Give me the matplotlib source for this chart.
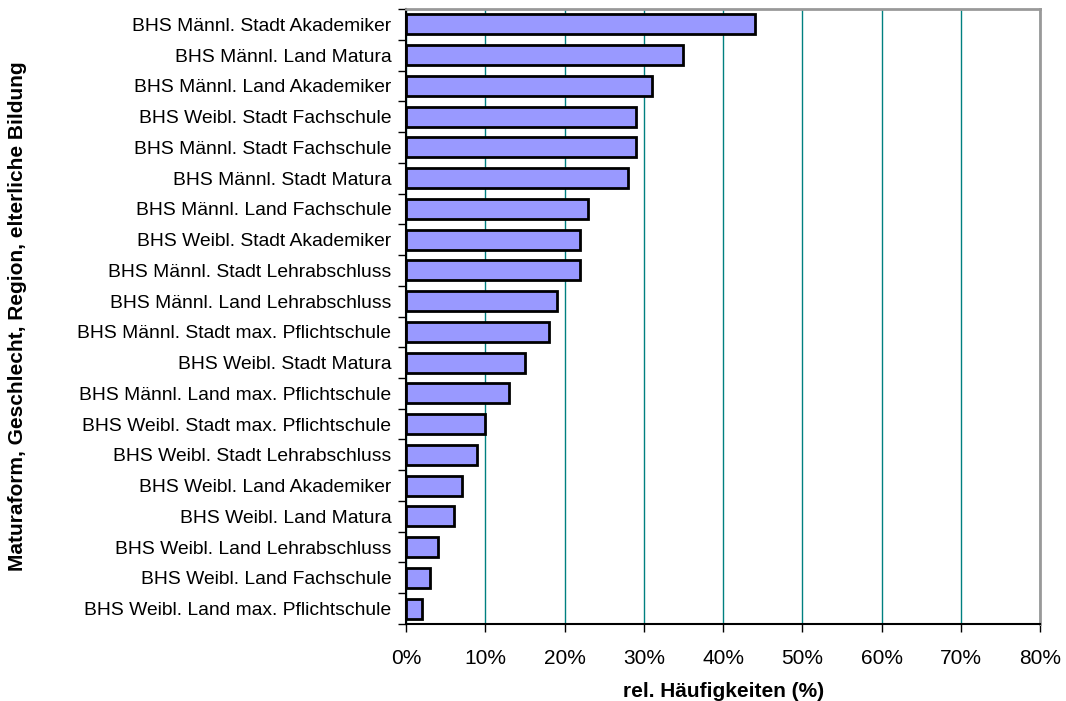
import matplotlib
matplotlib.use("Agg")
import matplotlib.pyplot as plt
from matplotlib.ticker import FixedLocator, PercentFormatter

# ----------------- DATA -----------------
CATEGORIES = [
    "BHS Männl. Stadt Akademiker",
    "BHS Männl. Land Matura",
    "BHS Männl. Land Akademiker",
    "BHS Weibl. Stadt Fachschule",
    "BHS Männl. Stadt Fachschule",
    "BHS Männl. Stadt Matura",
    "BHS Männl. Land Fachschule",
    "BHS Weibl. Stadt Akademiker",
    "BHS Männl. Stadt Lehrabschluss",
    "BHS Männl. Land Lehrabschluss",
    "BHS Männl. Stadt max. Pflichtschule",
    "BHS Weibl. Stadt Matura",
    "BHS Männl. Land max. Pflichtschule",
    "BHS Weibl. Stadt max. Pflichtschule",
    "BHS Weibl. Stadt Lehrabschluss",
    "BHS Weibl. Land Akademiker",
    "BHS Weibl. Land Matura",
    "BHS Weibl. Land Lehrabschluss",
    "BHS Weibl. Land Fachschule",
    "BHS Weibl. Land max. Pflichtschule",
]
VALUES = [44, 35, 31, 29, 29, 28, 23, 22, 22, 19, 18, 15, 13, 10, 9, 7, 6, 4, 3, 2]
X_TICKS = [0, 10, 20, 30, 40, 50, 60, 70, 80]

X_LABEL = "rel. Häufigkeiten (%)"
Y_LABEL = "Maturaform, Geschlecht, Region, elterliche Bildung"

# ----------------- PLOT -----------------
plt.rcParams["font.family"] = ["Liberation Sans", "DejaVu Sans"]

fig = plt.figure(figsize=(10.66, 7.01), dpi=100)
ax = fig.add_axes([0.381, 0.110, 0.5946, 0.877])

n = len(CATEGORIES)
ypos = list(range(n))
ax.barh(ypos, VALUES, height=0.65, color="#9999FF", edgecolor="black",
        linewidth=2, zorder=3)

ax.set_xlim(0, 80)
ax.set_ylim(n - 0.5, -0.5)

ax.set_xticks(X_TICKS)
ax.xaxis.set_major_formatter(PercentFormatter(decimals=0))
ax.tick_params(axis="x", direction="out", length=6, width=1, labelsize=15,
               pad=12, colors="black")
ax.grid(axis="x", color="#008080", linewidth=1, zorder=1)

# category boundary ticks and centered labels
ax.yaxis.set_major_locator(FixedLocator([k - 0.5 for k in range(n + 1)]))
ax.yaxis.set_minor_locator(FixedLocator(ypos))
ax.set_yticklabels([], minor=False)
ax.set_yticklabels(CATEGORIES, minor=True, fontsize=13.9)
ax.tick_params(axis="y", which="major", direction="out", length=6, width=1)
ax.tick_params(axis="y", which="minor", length=0, pad=10.7)

for side in ("top", "right"):
    ax.spines[side].set_color("#999999")
    ax.spines[side].set_linewidth(2)
for side in ("left", "bottom"):
    ax.spines[side].set_color("black")
    ax.spines[side].set_linewidth(1.5)

ax.set_xlabel(X_LABEL, fontsize=15, fontweight="bold", labelpad=10)
fig.text(0.016, 0.5485, Y_LABEL, rotation=90, fontsize=15, fontweight="bold",
         ha="center", va="center")

fig.savefig("out.png", dpi=100)
